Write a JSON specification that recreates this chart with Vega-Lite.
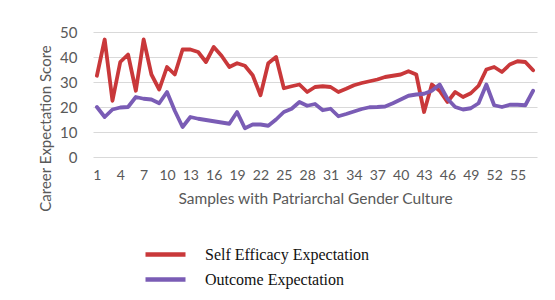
{
  "$schema": "https://vega.github.io/schema/vega-lite/v6.json",
  "autosize": "none",
  "width": 444,
  "height": 125,
  "padding": {"left": 93, "top": 32, "right": 18, "bottom": 143},
  "background": "white",
  "datasets": {
    "rows": [
      {"n":1,"s":"Self Efficacy Expectation","v":32.5},{"n":2,"s":"Self Efficacy Expectation","v":47},{"n":3,"s":"Self Efficacy Expectation","v":22.5},{"n":4,"s":"Self Efficacy Expectation","v":38},{"n":5,"s":"Self Efficacy Expectation","v":41},{"n":6,"s":"Self Efficacy Expectation","v":26.5},{"n":7,"s":"Self Efficacy Expectation","v":47},{"n":8,"s":"Self Efficacy Expectation","v":33},{"n":9,"s":"Self Efficacy Expectation","v":27},{"n":10,"s":"Self Efficacy Expectation","v":36},
      {"n":11,"s":"Self Efficacy Expectation","v":33},{"n":12,"s":"Self Efficacy Expectation","v":43},{"n":13,"s":"Self Efficacy Expectation","v":43},{"n":14,"s":"Self Efficacy Expectation","v":42},{"n":15,"s":"Self Efficacy Expectation","v":38},{"n":16,"s":"Self Efficacy Expectation","v":44},{"n":17,"s":"Self Efficacy Expectation","v":40.5},{"n":18,"s":"Self Efficacy Expectation","v":36},{"n":19,"s":"Self Efficacy Expectation","v":37.5},{"n":20,"s":"Self Efficacy Expectation","v":36.5},
      {"n":21,"s":"Self Efficacy Expectation","v":32.7},{"n":22,"s":"Self Efficacy Expectation","v":24.7},{"n":23,"s":"Self Efficacy Expectation","v":37.5},{"n":24,"s":"Self Efficacy Expectation","v":40},{"n":25,"s":"Self Efficacy Expectation","v":27.5},{"n":26,"s":"Self Efficacy Expectation","v":28.3},{"n":27,"s":"Self Efficacy Expectation","v":29},{"n":28,"s":"Self Efficacy Expectation","v":26},{"n":29,"s":"Self Efficacy Expectation","v":28},{"n":30,"s":"Self Efficacy Expectation","v":28.3},
      {"n":31,"s":"Self Efficacy Expectation","v":28},{"n":32,"s":"Self Efficacy Expectation","v":26},{"n":33,"s":"Self Efficacy Expectation","v":27.3},{"n":34,"s":"Self Efficacy Expectation","v":28.7},{"n":35,"s":"Self Efficacy Expectation","v":29.6},{"n":36,"s":"Self Efficacy Expectation","v":30.3},{"n":37,"s":"Self Efficacy Expectation","v":31},{"n":38,"s":"Self Efficacy Expectation","v":32},{"n":39,"s":"Self Efficacy Expectation","v":32.5},{"n":40,"s":"Self Efficacy Expectation","v":33},
      {"n":41,"s":"Self Efficacy Expectation","v":34.3},{"n":42,"s":"Self Efficacy Expectation","v":33},{"n":43,"s":"Self Efficacy Expectation","v":18},{"n":44,"s":"Self Efficacy Expectation","v":29},{"n":45,"s":"Self Efficacy Expectation","v":26.5},{"n":46,"s":"Self Efficacy Expectation","v":22},{"n":47,"s":"Self Efficacy Expectation","v":26},{"n":48,"s":"Self Efficacy Expectation","v":24},{"n":49,"s":"Self Efficacy Expectation","v":25.5},{"n":50,"s":"Self Efficacy Expectation","v":28.5},
      {"n":51,"s":"Self Efficacy Expectation","v":35},{"n":52,"s":"Self Efficacy Expectation","v":36},{"n":53,"s":"Self Efficacy Expectation","v":34},{"n":54,"s":"Self Efficacy Expectation","v":37},{"n":55,"s":"Self Efficacy Expectation","v":38.3},{"n":56,"s":"Self Efficacy Expectation","v":38},{"n":57,"s":"Self Efficacy Expectation","v":34.7},
      {"n":1,"s":"Outcome Expectation","v":20},{"n":2,"s":"Outcome Expectation","v":16},{"n":3,"s":"Outcome Expectation","v":19},{"n":4,"s":"Outcome Expectation","v":19.8},{"n":5,"s":"Outcome Expectation","v":20},{"n":6,"s":"Outcome Expectation","v":24},{"n":7,"s":"Outcome Expectation","v":23.3},{"n":8,"s":"Outcome Expectation","v":23},{"n":9,"s":"Outcome Expectation","v":21.5},{"n":10,"s":"Outcome Expectation","v":26},
      {"n":11,"s":"Outcome Expectation","v":18.5},{"n":12,"s":"Outcome Expectation","v":12},{"n":13,"s":"Outcome Expectation","v":16},{"n":14,"s":"Outcome Expectation","v":15.3},{"n":15,"s":"Outcome Expectation","v":14.8},{"n":16,"s":"Outcome Expectation","v":14.3},{"n":17,"s":"Outcome Expectation","v":13.8},{"n":18,"s":"Outcome Expectation","v":13.3},{"n":19,"s":"Outcome Expectation","v":18},{"n":20,"s":"Outcome Expectation","v":11.5},
      {"n":21,"s":"Outcome Expectation","v":13},{"n":22,"s":"Outcome Expectation","v":13},{"n":23,"s":"Outcome Expectation","v":12.5},{"n":24,"s":"Outcome Expectation","v":15},{"n":25,"s":"Outcome Expectation","v":18},{"n":26,"s":"Outcome Expectation","v":19.3},{"n":27,"s":"Outcome Expectation","v":22},{"n":28,"s":"Outcome Expectation","v":20.5},{"n":29,"s":"Outcome Expectation","v":21.2},{"n":30,"s":"Outcome Expectation","v":18.7},
      {"n":31,"s":"Outcome Expectation","v":19.3},{"n":32,"s":"Outcome Expectation","v":16.3},{"n":33,"s":"Outcome Expectation","v":17.2},{"n":34,"s":"Outcome Expectation","v":18.2},{"n":35,"s":"Outcome Expectation","v":19.2},{"n":36,"s":"Outcome Expectation","v":19.9},{"n":37,"s":"Outcome Expectation","v":20},{"n":38,"s":"Outcome Expectation","v":20.2},{"n":39,"s":"Outcome Expectation","v":21.5},{"n":40,"s":"Outcome Expectation","v":23},
      {"n":41,"s":"Outcome Expectation","v":24.5},{"n":42,"s":"Outcome Expectation","v":25},{"n":43,"s":"Outcome Expectation","v":25.3},{"n":44,"s":"Outcome Expectation","v":26.5},{"n":45,"s":"Outcome Expectation","v":29},{"n":46,"s":"Outcome Expectation","v":23.3},{"n":47,"s":"Outcome Expectation","v":20},{"n":48,"s":"Outcome Expectation","v":19},{"n":49,"s":"Outcome Expectation","v":19.5},{"n":50,"s":"Outcome Expectation","v":21.5},
      {"n":51,"s":"Outcome Expectation","v":29},{"n":52,"s":"Outcome Expectation","v":20.7},{"n":53,"s":"Outcome Expectation","v":20},{"n":54,"s":"Outcome Expectation","v":20.9},{"n":55,"s":"Outcome Expectation","v":20.9},{"n":56,"s":"Outcome Expectation","v":20.7},{"n":57,"s":"Outcome Expectation","v":26.5}
    ]
  },
  "data": {"name": "rows"},
  "mark": {"type": "line", "strokeWidth": 3.8, "strokeJoin": "round", "strokeCap": "round"},
  "encoding": {
    "x": {
      "field": "n", "type": "quantitative",
      "scale": {"domain": [0.5, 57.5], "nice": false, "zero": false},
      "axis": {
        "values": [1,4,7,10,13,16,19,22,25,28,31,34,37,40,43,46,49,52,55],
        "grid": false, "domain": false, "ticks": false, "tickSize": 0,
        "labelPadding": 11, "labelFont": "Lato", "labelFontSize": 14, "labelColor": "#595959",
        "title": "Samples with Patriarchal Gender Culture",
        "titleFont": "Lato", "titleFontSize": 15.5, "titleFontWeight": "normal", "titleColor": "#595959",
        "titlePadding": 9
      }
    },
    "y": {
      "field": "v", "type": "quantitative",
      "scale": {"domain": [0, 50], "nice": false},
      "axis": {
        "values": [0,10,20,30,40,50],
        "grid": true, "gridColor": "#D9D9D9", "gridWidth": 1,
        "domain": false, "ticks": false, "tickSize": 0,
        "labelPadding": 16, "labelFont": "Lato", "labelFontSize": 15, "labelColor": "#595959",
        "title": "Career Expectation Score",
        "titleFont": "Lato", "titleFontSize": 15, "titleFontWeight": "normal", "titleColor": "#595959",
        "titleX": -48, "titleY": 96, "titleAlign": "center", "titleBaseline": "middle", "titleAngle": -90
      }
    },
    "color": {
      "field": "s", "type": "nominal",
      "scale": {"domain": ["Self Efficacy Expectation", "Outcome Expectation"], "range": ["#C9383A", "#7A5CB5"]},
      "legend": {
        "title": null, "orient": "none", "legendX": 60, "legendY": 210,
        "symbolType": "M-2,0H2", "symbolSize": 400, "symbolStrokeWidth": 4.5,
        "labelFont": "Liberation Serif", "labelFontSize": 16, "labelColor": "#111111", "labelLimit": 400,
        "labelOffset": 27, "rowPadding": 3
      }
    }
  },
  "config": {"view": {"stroke": null}}
}
